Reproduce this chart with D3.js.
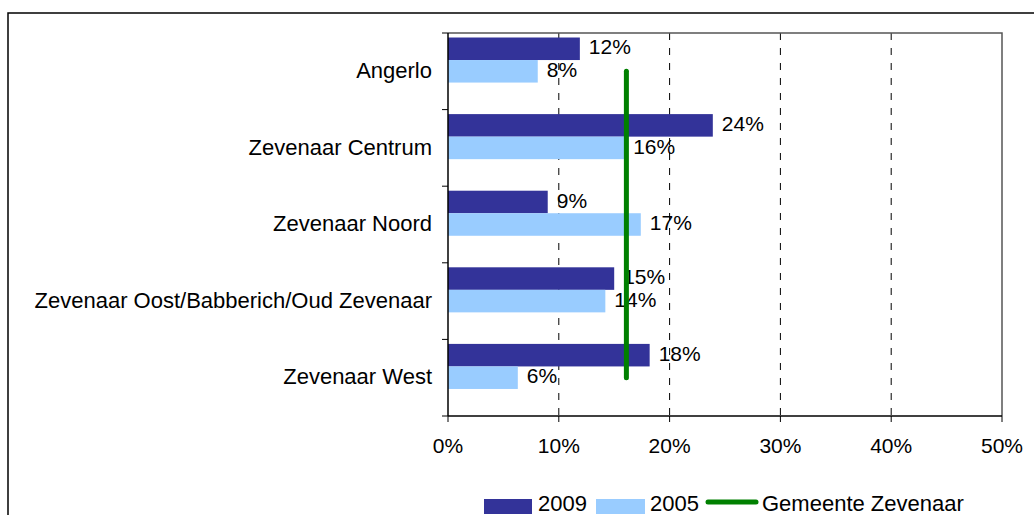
<!DOCTYPE html>
<html>
<head>
<meta charset="utf-8">
<script src="https://cdn.jsdelivr.net/npm/d3@7.9.0/dist/d3.min.js"></script>
<style>
  body { margin: 0; background: #fff; }
  svg { display: block; font-family: "Liberation Sans", Arial, sans-serif; }
  text { fill: #000; }
</style>
</head>
<body>
<svg id="chart" width="1034" height="515"></svg>
<script>
// data
const wijken = ['Angerlo', 'Zevenaar Centrum', 'Zevenaar Noord', 'Zevenaar Oost/Babberich/Oud Zevenaar', 'Zevenaar West'];
const jaren = ['2009', '2005'];
const waarden2009 = [0.119, 0.239, 0.090, 0.150, 0.182];
const waarden2005 = [0.081, 0.159, 0.174, 0.142, 0.063];
const gemeente = 0.161;
const xTicks = [0, 0.1, 0.2, 0.3, 0.4, 0.5];

const svg = d3.select('#chart');
const fontSize = 21;
const labelSize = 22;

// outer chart frame (runs off the right and bottom of the picture)
svg.append('rect')
    .attr('x', 8).attr('y', 13)
    .attr('width', 1100).attr('height', 600)
    .attr('fill', 'none').attr('stroke', '#000').attr('stroke-width', 1.5);

const plot = { left: 448, right: 1002, top: 33, bottom: 416 };

let x = d3.scaleLinear().domain([0, 0.5]).range([plot.left, plot.right]);
let y = d3.scaleBand().domain(wijken).range([plot.top, plot.bottom]);
// third slot stays empty, like the hidden series in the original
let ySub = d3.scaleBand().domain(['2009', '2005', 'leeg']).range([0, y.bandwidth()]).paddingOuter(0.2);
let colors = d3.scaleOrdinal().domain(jaren).range(['#333399', '#99ccff']);
let pct = d3.format('.0%');

// dashed gridlines
svg.append('g')
    .selectAll('line')
    .data(xTicks.slice(1, -1))
    .join('line')
    .attr('x1', d => x(d)).attr('x2', d => x(d))
    .attr('y1', plot.top).attr('y2', plot.bottom)
    .attr('stroke', '#000').attr('stroke-width', 1)
    .attr('stroke-dasharray', '7,8');

// plot area border top/right
svg.append('path')
    .attr('d', `M${plot.left},${plot.top}H${plot.right}V${plot.bottom}`)
    .attr('fill', 'none').attr('stroke', '#555').attr('stroke-width', 1.5);

// bars
const rows = wijken.map((w, i) => ({ wijk: w, '2009': waarden2009[i], '2005': waarden2005[i] }));
const groups = svg.append('g').selectAll('g')
    .data(rows)
    .join('g')
    .attr('transform', d => `translate(0,${y(d.wijk)})`);

jaren.forEach(jaar => {
    groups.append('rect')
        .attr('x', x(0))
        .attr('y', ySub(jaar))
        .attr('width', d => x(d[jaar]) - x(0))
        .attr('height', ySub.bandwidth())
        .attr('fill', colors(jaar));
});

// green line for the municipality
svg.append('line')
    .attr('x1', x(gemeente)).attr('x2', x(gemeente))
    .attr('y1', y(wijken[0]) + y.bandwidth() / 2)
    .attr('y2', y(wijken[wijken.length - 1]) + y.bandwidth() / 2)
    .attr('stroke', '#008000').attr('stroke-width', 5).attr('stroke-linecap', 'round');

// value labels
jaren.forEach(jaar => {
    groups.append('text')
        .attr('x', d => x(d[jaar]) + 9)
        .attr('y', ySub(jaar) + ySub.bandwidth() / 2)
        .attr('dy', '0.27em')
        .attr('font-size', fontSize)
        .text(d => pct(d[jaar]));
});

// category axis
const yAxis = svg.append('g');
yAxis.append('line')
    .attr('x1', plot.left).attr('x2', plot.left)
    .attr('y1', plot.top).attr('y2', plot.bottom)
    .attr('stroke', '#000').attr('stroke-width', 1.5);
yAxis.selectAll('line.tick')
    .data(wijken.map(w => y(w)).concat([plot.bottom]))
    .join('line')
    .attr('class', 'tick')
    .attr('x1', plot.left - 6).attr('x2', plot.left)
    .attr('y1', d => d).attr('y2', d => d)
    .attr('stroke', '#000').attr('stroke-width', 1);
yAxis.selectAll('text')
    .data(wijken)
    .join('text')
    .attr('x', 432)
    .attr('y', d => y(d) + y.bandwidth() / 2)
    .attr('dy', '0.3em')
    .attr('text-anchor', 'end')
    .attr('font-size', labelSize)
    .text(d => d);

// value axis
const xAxis = svg.append('g');
xAxis.append('line')
    .attr('x1', plot.left).attr('x2', plot.right)
    .attr('y1', plot.bottom).attr('y2', plot.bottom)
    .attr('stroke', '#000').attr('stroke-width', 1.5);
xAxis.selectAll('line.tick')
    .data(xTicks)
    .join('line')
    .attr('class', 'tick')
    .attr('x1', d => x(d)).attr('x2', d => x(d))
    .attr('y1', plot.bottom).attr('y2', plot.bottom + 6)
    .attr('stroke', '#000').attr('stroke-width', 1);
xAxis.selectAll('text')
    .data(xTicks)
    .join('text')
    .attr('x', d => x(d))
    .attr('y', plot.bottom + 37)
    .attr('text-anchor', 'middle')
    .attr('font-size', fontSize)
    .text(d => pct(d));

// legend
const legend = svg.append('g');
legend.append('rect').attr('x', 484).attr('y', 499).attr('width', 48).attr('height', 15).attr('fill', colors('2009'));
legend.append('text').attr('x', 538).attr('y', 511).attr('font-size', labelSize).text('2009');
legend.append('rect').attr('x', 596).attr('y', 499).attr('width', 49).attr('height', 15).attr('fill', colors('2005'));
legend.append('text').attr('x', 650).attr('y', 511).attr('font-size', labelSize).text('2005');
legend.append('line').attr('x1', 708).attr('x2', 756).attr('y1', 502).attr('y2', 502)
    .attr('stroke', '#008000').attr('stroke-width', 5).attr('stroke-linecap', 'round');
legend.append('text').attr('x', 762).attr('y', 511).attr('font-size', labelSize).text('Gemeente Zevenaar');
</script>
</body>
</html>
